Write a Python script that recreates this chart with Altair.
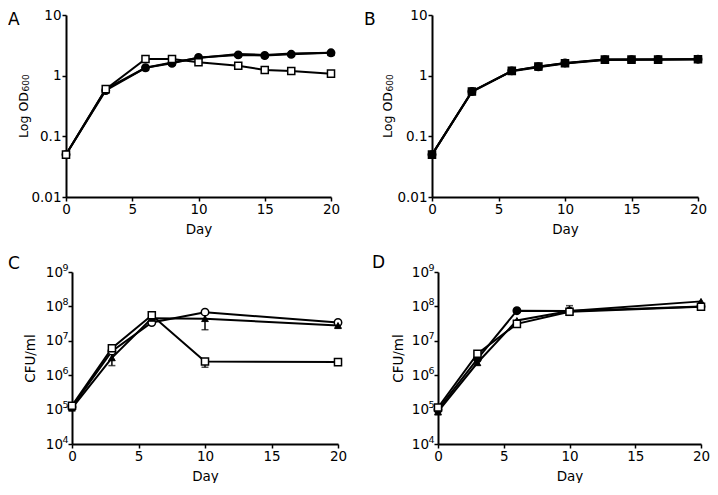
import math
import altair as alt
import pandas as pd

# ---------------- data ----------------
series_names = ["circle", "triangle", "square"]

days_od = [0, 3, 6, 8, 10, 13, 15, 17, 20]
a_circle = [0.05, 0.57, 1.35, 1.6, 2.0, 2.2, 2.15, 2.25, 2.38]
a_triangle = [0.05, 0.6, 1.35, 1.65, 1.95, 2.27, 2.2, 2.33, 2.38]
a_square = [0.05, 0.6, 1.88, 1.88, 1.66, 1.46, 1.24, 1.19, 1.08]

b_circle = [0.05, 0.55, 1.2, 1.4, 1.62, 1.84, 1.84, 1.85, 1.87]
b_triangle = [0.05, 0.54, 1.18, 1.38, 1.58, 1.82, 1.83, 1.84, 1.86]
b_square = [0.05, 0.55, 1.2, 1.42, 1.6, 1.84, 1.84, 1.84, 1.87]

days_cfu = [0, 3, 6, 10, 20]
c_circle = [1.2e5, 5.0e6, 3.4e7, 6.8e7, 3.4e7]
c_triangle = [1.1e5, 3.2e6, 4.5e7, 4.4e7, 2.8e7]
c_square = [1.3e5, 6.1e6, 5.5e7, 2.5e6, 2.4e6]
# error bars: series, day, low, high
c_err_series = ["triangle", "triangle", "triangle", "square"]
c_err_day = [3, 10, 20, 10]
c_err_lo = [1.9e6, 2.1e7, 2.3e7, 1.7e6]
c_err_hi = [4.5e6, 6.0e7, 3.3e7, 3.0e6]

d_circle = [1.0e5, 3.0e6, 7.5e7, 7.3e7, 1.0e8]
d_triangle = [8.7e4, 2.3e6, 3.9e7, 7.3e7, 1.4e8]
d_square = [1.15e5, 4.2e6, 3.1e7, 7.0e7, 9.8e7]
d_err_series = ["circle", "triangle"]
d_err_day = [10, 0]
d_err_lo = [5.5e7, 7.0e4]
d_err_hi = [1.05e8, 1.15e5]

od_ticks = [0.01, 0.1, 1, 10]
cfu_ticks = [1e4, 1e5, 1e6, 1e7, 1e8, 1e9]
day_ticks = [0, 5, 10, 15, 20]

od_title = "Log OD"
od_title_sub = "600"
cfu_title = "CFU/ml"


def long_df(days, circ, tri, sq):
    rows = []
    for name, vals in zip(series_names, [circ, tri, sq]):
        for d, v in zip(days, vals):
            rows.append({"day": d, "value": v, "series": name})
    return pd.DataFrame(rows)


def err_df(series, days, lo, hi):
    return pd.DataFrame({"series": series, "day": days, "lo": lo, "hi": hi})


FONT = "DejaVu Sans"
FS = 13.5

axis_style = dict(domainColor="black", domainWidth=2, tickColor="black", tickWidth=1.5,
                  tickSize=4, labelFont=FONT, labelFontSize=FS, labelColor="black",
                  titleFont=FONT, titleFontWeight="normal",
                  titleColor="black", grid=False)


def panel(df, edf, letter, ydomain, yvals, shift, pw, height,
          letter_x, letter_y, title_x, circle_fill, square_fill, kind):
    # shift: pixels between the group origin and the drawn y axis
    xenc = alt.X("day:Q",
                 scale=alt.Scale(domain=[0, 20], nice=False, zero=False,
                                 range=[shift, shift + pw]),
                 axis=alt.Axis(values=day_ticks, title="Day", labelFlush=False,
                               titlePadding=7, labelPadding=1, titleFontSize=FS,
                               **axis_style))
    if kind == "od":
        yaxis = alt.Axis(values=yvals, title=od_title,
                         labelExpr="format(datum.value, '~g')",
                         titleX=title_x, titleY=height / 2 + 8.5,
                         titleBaseline="middle", titleFontSize=12.5,
                         labelPadding=1, offset=-shift, **axis_style)
    else:
        yaxis = alt.Axis(values=yvals, title=cfu_title, labelExpr="'10'",
                         titleX=title_x, titleBaseline="middle", titleFontSize=FS,
                         labelPadding=5.5, offset=-shift, **axis_style)
    yscale = alt.Scale(type="log", domain=ydomain, nice=False)

    def yenc(field):
        return alt.Y(f"{field}:Q", scale=yscale, axis=yaxis)

    base = alt.Chart(df)
    lines = base.mark_line(color="black", strokeWidth=2).encode(
        x=xenc, y=yenc("value"), detail="series:N")
    layers = [lines]
    if edf is not None:
        e = alt.Chart(edf)
        layers.append(e.mark_rule(color="black", strokeWidth=1.5).encode(
            x=xenc, y=yenc("lo"), y2="hi:Q"))
        layers.append(e.mark_tick(color="black", orient="horizontal", size=7,
                                  thickness=1.5).encode(x=xenc, y=yenc("lo")))
        layers.append(e.mark_tick(color="black", orient="horizontal", size=7,
                                  thickness=1.5).encode(x=xenc, y=yenc("hi")))
    layers.append(base.transform_filter(alt.datum.series == "circle").mark_point(
        shape="circle", filled=True, fill=circle_fill, stroke="black", strokeWidth=1.5,
        size=55, opacity=1).encode(x=xenc, y=yenc("value")))
    layers.append(base.transform_filter(alt.datum.series == "triangle").mark_point(
        shape="triangle-up", filled=True, fill="black", stroke="black", strokeWidth=1,
        size=45, opacity=1).encode(x=xenc, y=yenc("value")))
    layers.append(base.transform_filter(alt.datum.series == "square").mark_point(
        shape="square", filled=True, fill=square_fill, stroke="black", strokeWidth=1.5,
        size=50, opacity=1).encode(x=xenc, y=yenc("value")))

    if kind == "od":
        # subscript of the axis title (Log OD600)
        layers.append(alt.Chart(pd.DataFrame({"t": [od_title_sub]})).mark_text(
            text=od_title_sub, angle=270, align="left", baseline="middle",
            fontSize=9, font=FONT, color="black").encode(
            x=alt.value(shift + title_x + 2.5),
            y=alt.value(height / 2 + 8.5 - 23)))
    else:
        # superscript exponents of the 10^n tick labels
        exps = pd.DataFrame({"tick": yvals,
                             "exp": [str(int(round(math.log10(v)))) for v in yvals]})
        layers.append(alt.Chart(exps).mark_text(
            align="left", baseline="middle", dy=-4.5, fontSize=9.5, font=FONT,
            color="black").encode(x=alt.value(shift - 9.5), y=yenc("tick"),
                                  text="exp:N"))

    layers.append(alt.Chart(pd.DataFrame({"t": [letter]})).mark_text(
        text=letter, align="left", baseline="alphabetic", fontSize=17, font=FONT,
        color="black").encode(x=alt.value(letter_x), y=alt.value(letter_y)))
    return alt.layer(*layers).properties(width=shift + pw, height=height)


pA = panel(long_df(days_od, a_circle, a_triangle, a_square), None, "A",
           [0.01, 10], od_ticks, 0, 265, 182, -58, 9.5, -42.5, "black", "white", "od")
pB = panel(long_df(days_od, b_circle, b_triangle, b_square), None, "B",
           [0.01, 10], od_ticks, 0, 266, 182, -68, 9.5, -45, "black", "black", "od")
pC = panel(long_df(days_cfu, c_circle, c_triangle, c_square),
           err_df(c_err_series, c_err_day, c_err_lo, c_err_hi), "C",
           [1e4, 1e9], cfu_ticks, 6, 266, 172, -58, -3, -42, "white", "white", "cfu")
pD = panel(long_df(days_cfu, d_circle, d_triangle, d_square),
           err_df(d_err_series, d_err_day, d_err_lo, d_err_hi), "D",
           [1e4, 1e9], cfu_ticks, 6, 263, 172, -60, -4, -40, "black", "white", "cfu")

chart = alt.concat(pA, pB, pC, pD, columns=2, bounds="flush",
                   spacing={"row": 75, "column": 94}).properties(
    padding={"left": 0, "top": 0, "right": 0, "bottom": 0}
).configure_view(stroke=None)

chart.save("out.html", embed_options={"renderer": "svg", "actions": False})
